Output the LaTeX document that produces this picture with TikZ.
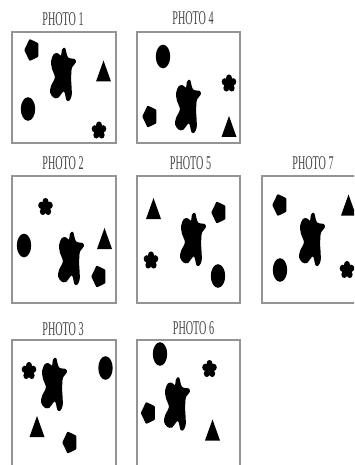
\documentclass[tikz,border=0pt]{standalone}
\usepackage{fontspec}
\setmainfont{Liberation Serif}
\newcommand\phlabel[1]{\scalebox{0.52}[1]{\fontsize{19.5}{21}\selectfont #1}}
\begin{document}
\begin{tikzpicture}[x=1pt,y=-1pt,
  frame/.style={draw=black!42,line width=1.1pt},
  lbl/.style={text=black!72,inner sep=0pt,anchor=center},
  blob/.pic={\fill[black,xscale=1.25] plot[smooth cycle,tension=0.55] coordinates {
     (1.7,-27) (4,-17.7) (9.3,-16) (10.3,-12.7) (7.3,-7.7) (6.7,-2.7) (6.5,5)
     (6.9,12.3) (6.9,20.7) (5,25.7) (2.7,25) (0.7,16.5) (-4,23) (-7.8,22.3)
     (-10.3,17.5) (-9.5,10.7) (-6.5,2.3) (-8.8,-6) (-9.5,-14.3) (-7.3,-21)
     (-4,-21.7) (-1.7,-19.3) (-0.7,-25.5)};},
  flower/.pic={\fill[black] (0,0) ellipse[x radius=4.2,y radius=5]
     (270:4.5 and 5.5) ellipse[x radius=3,y radius=3.6]
     (342:4.5 and 5.5) ellipse[x radius=3,y radius=3.6]
     (54:4.5 and 5.5) ellipse[x radius=3,y radius=3.6]
     (126:4.5 and 5.5) ellipse[x radius=3,y radius=3.6]
     (198:4.5 and 5.5) ellipse[x radius=3,y radius=3.6];},
  penta/.pic={\fill[black,rounded corners=0.8pt] (180:7.8 and 11.6) -- (252:7.8 and 11.6) -- (324:7.8 and 11.6) -- (36:7.8 and 11.6) -- (108:7.8 and 11.6) -- cycle;},
  tri/.pic={\fill[black] (0,-10.5) -- (7.5,10.5) -- (-7.5,10.5) -- cycle;},
  disc/.pic={\fill[black] (0,0) ellipse[x radius=7.2,y radius=11.8];}]
\useasboundingbox (0,0) rectangle (354,465);
\fill[white] (0,0) rectangle (354,465);
\clip (0,0) rectangle (354,465);
% labels
\node[lbl] (l1) at (63,19) {\phlabel{PHOTO 1}};
\node[lbl] (l4) at (193,18.5) {\phlabel{PHOTO 4}};
\node[lbl] (l2) at (63,163) {\phlabel{PHOTO 2}};
\node[lbl] (l5) at (190.5,163) {\phlabel{PHOTO 5}};
\node[lbl] (l7) at (313,163) {\phlabel{PHOTO 7}};
\node[lbl] (l3) at (63,329.5) {\phlabel{PHOTO 3}};
\node[lbl] (l6) at (193.5,328.5) {\phlabel{PHOTO 6}};
% frames
\draw[frame] (12,32) rectangle (116,143);
\draw[frame] (137,32) rectangle (240,143);
\draw[frame] (12,176) rectangle (116,303);
\draw[frame] (137,176) rectangle (240,303);
\draw[frame] (262,176) rectangle (366,303);
\draw[frame] (12,340) rectangle (116,480);
\draw[frame] (137,340) rectangle (240,480);
% photo 1
\pic at (32,50) {penta};
\pic at (63,75) {blob};
\pic at (103.5,71) {tri};
\pic at (28,109) {disc};
\pic at (99,130.5) {flower};
% photo 4
\pic at (163,56.5) {disc};
\pic at (229,83.5) {flower};
\pic at (188,107) {blob};
\pic at (150,116.5) {penta};
\pic at (229,126.5) {tri};
% photo 2
\pic at (45.5,207) {flower};
\pic at (24,245.5) {disc};
\pic at (71,259) {blob};
\pic at (104.5,238.5) {tri};
\pic at (99,276.5) {penta};
% photo 5
\pic at (153.5,208.5) {tri};
\pic at (219,212.5) {penta};
\pic at (193,240) {blob};
\pic at (151,260.5) {flower};
\pic at (218,276) {disc};
% photo 7
\pic at (280,205) {penta};
\pic at (348.5,205) {tri};
\pic at (312,240) {blob};
\pic at (280,270) {disc};
\pic at (347,270) {flower};
% photo 3
\pic at (29,371) {flower};
\pic at (54,385) {blob};
\pic at (105.5,368) {disc};
\pic at (37,426.5) {tri};
\pic at (70,442.5) {penta};
% photo 6
\pic at (160,354) {disc};
\pic at (209.5,369) {flower};
\pic at (177,404.5) {blob};
\pic at (148.5,413) {penta};
\pic at (212.5,430) {tri};
\end{tikzpicture}
\end{document}
